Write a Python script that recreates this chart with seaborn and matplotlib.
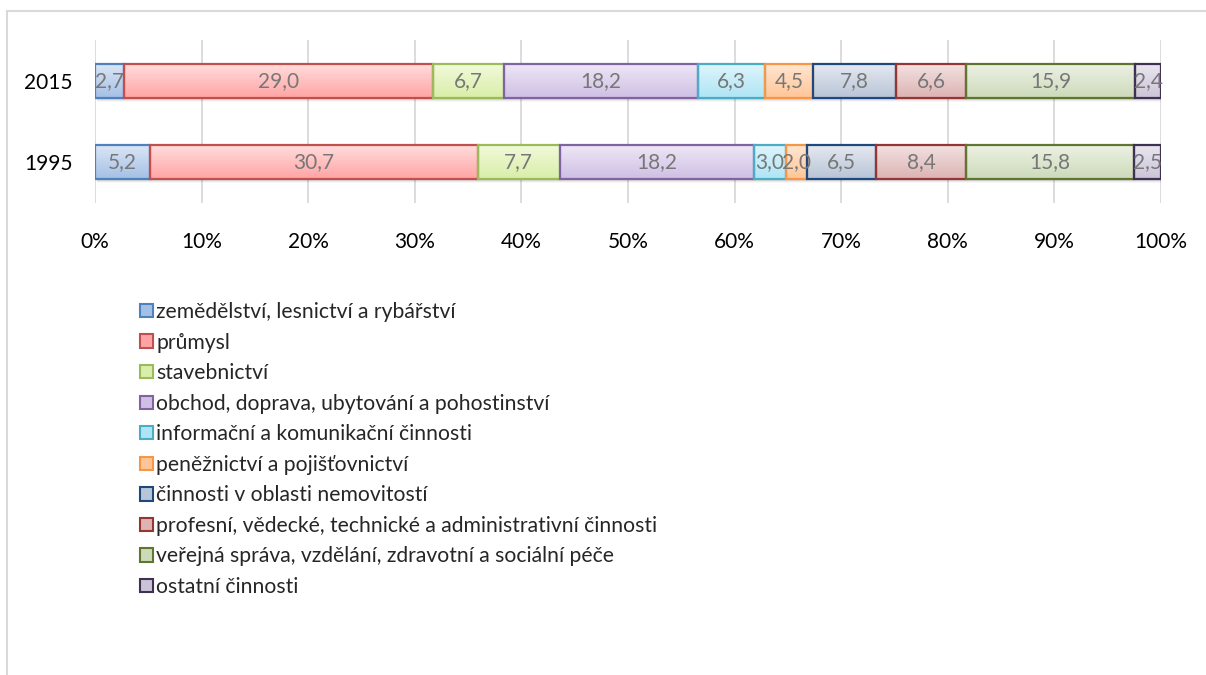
import numpy as np
import pandas as pd
import seaborn as sns
import matplotlib.pyplot as plt
import matplotlib.transforms as mtransforms
from matplotlib.colors import to_rgb
from matplotlib.patches import Patch, Rectangle
from matplotlib.lines import Line2D

years = ['2015', '1995']
sectors = [
    'zemědělství, lesnictví a rybářství',
    'průmysl',
    'stavebnictví',
    'obchod, doprava, ubytování a pohostinství',
    'informační a komunikační činnosti',
    'peněžnictví a pojišťovnictví',
    'činnosti v oblasti nemovitostí',
    'profesní, vědecké, technické a administrativní činnosti',
    'veřejná správa, vzdělání, zdravotní a sociální péče',
    'ostatní činnosti',
]
values_2015 = [2.7, 29.0, 6.7, 18.2, 6.3, 4.5, 7.8, 6.6, 15.9, 2.4]
values_1995 = [5.2, 30.7, 7.7, 18.2, 3.0, 2.0, 6.5, 8.4, 15.8, 2.5]

edge_colors = ['#4F81BD', '#C0504D', '#9BBB59', '#8064A2', '#4BACC6',
               '#F79646', '#1F497D', '#943634', '#5F7530', '#3F3151']
top_colors = ['#DCE7F6', '#FFDEDE', '#F2FADC', '#EFE8F6', '#E0F5FB',
              '#FFE7D3', '#E6EAF1', '#F3E2E2', '#EDF2E5', '#EAE7F0']
bottom_colors = ['#A4C0E6', '#FFA4A4', '#D9EEA8', '#CFBFE4', '#AEE5F5',
                 '#FFC597', '#B8C4D7', '#DDB3B3', '#CDDABA', '#CBC4D8']

# table: one row per year and sector, with running share in percent
rows = []
for year, vals in zip(years, [values_2015, values_1995]):
    total = sum(vals)
    cum = 0
    for s, v in zip(sectors, vals):
        cum += v
        rows.append({'year': year, 'sector': s, 'value': v, 'cum': cum / total * 100})
df = pd.DataFrame(rows)

sns.set_style('white')
plt.rcParams['font.family'] = ['Lato', 'DejaVu Sans']
fs = 15
fs_leg = 15.2

fig = plt.figure(figsize=(12.06, 6.75), dpi=100)
ax = fig.add_axes([95 / 1206, 1 - 203 / 675, 1066 / 1206, 163 / 675])

# cumulative bars, longest first, so each one ends where its sector ends
bar_patches = {}
for i in range(len(sectors) - 1, -1, -1):
    sub = df[df['sector'] == sectors[i]]
    n0 = len(ax.patches)
    sns.barplot(data=sub, x='cum', y='year', order=years, orient='h',
                width=0.42, color=edge_colors[i], errorbar=None, ax=ax)
    bar_patches[i] = list(ax.patches[n0:])

# turn the cumulative bars into separate segments with gradient fill
for j, year in enumerate(years):
    vals = df[df['year'] == year]['value'].tolist()
    prev_end = 0
    for i in range(len(sectors)):
        p = bar_patches[i][j]
        p.set_visible(False)
        x0, end = prev_end, p.get_x() + p.get_width()
        y0, h = p.get_y(), p.get_height()
        w = end - x0
        # soft shadow
        for k, a in [(1, 0.10), (2, 0.07), (3, 0.05), (4, 0.03)]:
            tr = mtransforms.offset_copy(ax.transData, fig=fig, x=k * 0.6, y=-k, units='dots')
            ax.add_patch(Rectangle((x0, y0), w, h, transform=tr, facecolor='black',
                                   edgecolor='none', alpha=a, zorder=0.8))
        grad = np.linspace(np.array(to_rgb(top_colors[i])),
                           np.array(to_rgb(bottom_colors[i])), 60)[:, None, :]
        ax.imshow(grad, extent=(x0, end, y0 + h, y0), aspect='auto', origin='upper',
                  interpolation='bilinear', zorder=1 + i * 0.01)
        ax.add_patch(Rectangle((x0, y0), w, h, facecolor='none', edgecolor=edge_colors[i],
                               linewidth=1.6, zorder=2 + i * 0.01))
        ax.text(x0 + w / 2, y0 + h / 2, f'{vals[i]:.1f}'.replace('.', ','),
                ha='center', va='center', color='#777777', fontsize=fs, zorder=5)
        prev_end = end

ax.set_xlim(0, 100)
ax.set_ylim(1.5, -0.5)
ax.set_xticks(range(0, 101, 10))
ax.set_xticklabels([f'{t}%' for t in range(0, 101, 10)])
ax.set_xlabel('')
ax.set_ylabel('')
ax.grid(axis='x', color='#D9D9D9', linewidth=1.3)
ax.grid(axis='y', visible=False)
ax.set_axisbelow(True)
for s in ax.spines.values():
    s.set_visible(False)
ax.tick_params(axis='x', length=0, pad=21, labelsize=fs, labelcolor='black')
ax.tick_params(axis='y', length=0, pad=16, labelsize=fs, labelcolor='black')

handles = [Patch(facecolor=bottom_colors[i], edgecolor=edge_colors[i], linewidth=1.5)
           for i in range(len(sectors))]
fig.legend(handles, sectors, loc='upper left', bbox_to_anchor=(140 / 1206, 1 - 302 / 675),
           frameon=False, fontsize=fs_leg, handlelength=0.6, handleheight=0.6,
           handletextpad=0.18, labelspacing=0.5, borderpad=0, borderaxespad=0)

# chart area border (only top and left visible)
fig.add_artist(Line2D([7 / 1206, 7 / 1206], [0, 1 - 11 / 675], transform=fig.transFigure,
                      color='#D9D9D9', linewidth=1.5))
fig.add_artist(Line2D([7 / 1206, 1], [1 - 11 / 675, 1 - 11 / 675], transform=fig.transFigure,
                      color='#D9D9D9', linewidth=1.5))

fig.savefig('out.png', dpi=100)
